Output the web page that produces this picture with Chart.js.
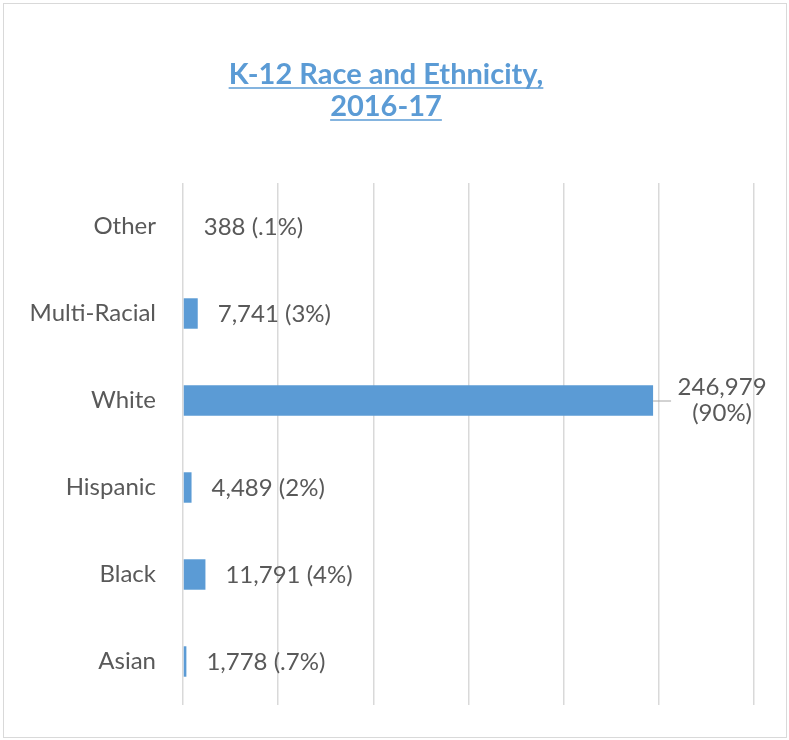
<!DOCTYPE html>
<html lang="en">
<head>
<meta charset="UTF-8">
<title>K-12 Race and Ethnicity</title>
<script src="https://cdn.jsdelivr.net/npm/chart.js"></script>
<style>
    html, body { margin: 0; padding: 0; background: #fff; }
    #wrap { position: relative; width: 789px; height: 740px; }
    #frame { position: absolute; left: 3px; top: 3px; width: 782px; height: 733px; border: 1px solid #d9d9d9; }
    canvas { position: absolute; left: 0; top: 0; }
</style>
</head>
<body>
<div id="wrap">
    <div id="frame"></div>
    <canvas id="chart" width="789" height="740"></canvas>
</div>
<script>
    // данные
    const titleLines = ['K-12 Race and Ethnicity,', '2016-17'];
    const categories = ['Other', 'Multi-Racial', 'White', 'Hispanic', 'Black', 'Asian'];
    const students = [388, 7741, 246979, 4489, 11791, 1778];
    const shares = ['.1%', '3%', '90%', '2%', '4%', '.7%'];

    const blue = '#5b9bd5';
    const textGrey = '#595959';
    const font = 'Lato, "Open Sans", sans-serif';

    // заголовок с подчеркиванием
    const titlePlugin = {
        id: 'underlinedTitle',
        afterDraw(chart) {
            const ctx = chart.ctx;
            ctx.save();
            ctx.font = 'bold 29px ' + font;
            ctx.fillStyle = blue;
            ctx.strokeStyle = blue;
            ctx.lineWidth = 1.5;
            ctx.textAlign = 'center';
            ctx.textBaseline = 'middle';
            const cx = 386;
            titleLines.forEach((line, i) => {
                const y = 75 + i * 32;
                ctx.fillText(line, cx, y);
                const w = ctx.measureText(line).width;
                ctx.beginPath();
                ctx.moveTo(cx - w / 2, y + 13);
                ctx.lineTo(cx + w / 2, y + 13);
                ctx.stroke();
            });
            ctx.restore();
        }
    };

    // подписи значений
    const labelPlugin = {
        id: 'valueLabels',
        afterDatasetsDraw(chart) {
            const ctx = chart.ctx;
            const meta = chart.getDatasetMeta(0);
            const area = chart.chartArea;
            ctx.save();
            ctx.font = '24px ' + font;
            ctx.fillStyle = textGrey;
            ctx.textBaseline = 'middle';
            meta.data.forEach((bar, i) => {
                const value = students[i].toLocaleString('en-US');
                const pct = '(' + shares[i] + ')';
                const text = value + ' ' + pct;
                const x = bar.x + 20;
                if (x + ctx.measureText(text).width > area.right) {
                    // не помещается - в две строки с выноской
                    ctx.strokeStyle = '#a6a6a6';
                    ctx.lineWidth = 1;
                    ctx.beginPath();
                    ctx.moveTo(bar.x, bar.y + 0.5);
                    ctx.lineTo(bar.x + 18, bar.y + 0.5);
                    ctx.stroke();
                    ctx.textAlign = 'center';
                    ctx.fillText(value, bar.x + 69, bar.y - 13);
                    ctx.fillText(pct, bar.x + 69, bar.y + 13);
                } else {
                    ctx.textAlign = 'left';
                    ctx.fillText(text, x, bar.y + 1);
                }
            });
            ctx.restore();
        }
    };

    new Chart(document.getElementById('chart').getContext('2d'), {
        type: 'bar',
        data: {
            labels: categories,
            datasets: [{
                data: students,
                backgroundColor: blue,
                borderWidth: 0,
                categoryPercentage: 0.7,
                barPercentage: 0.5
            }]
        },
        options: {
            indexAxis: 'y',
            responsive: false,
            animation: false,
            layout: { padding: { top: 183, right: 35, bottom: 35, left: 0 } },
            plugins: {
                legend: { display: false },
                title: { display: false },
                tooltip: { enabled: false }
            },
            scales: {
                x: {
                    min: 0,
                    max: 300000,
                    ticks: { display: false, stepSize: 50000 },
                    grid: { color: '#d9d9d9', lineWidth: 1.5, drawTicks: false },
                    border: { display: false },
                    afterFit(scale) { scale.height = 0; scale.paddingLeft = 0; scale.paddingRight = 0; }
                },
                y: {
                    ticks: { color: textGrey, font: { family: font, size: 24 }, padding: 27 },
                    grid: { display: false, drawTicks: false },
                    border: { display: false },
                    afterFit(scale) { scale.width = 183; scale.paddingTop = 0; scale.paddingBottom = 0; }
                }
            }
        },
        plugins: [titlePlugin, labelPlugin]
    });
</script>
</body>
</html>
